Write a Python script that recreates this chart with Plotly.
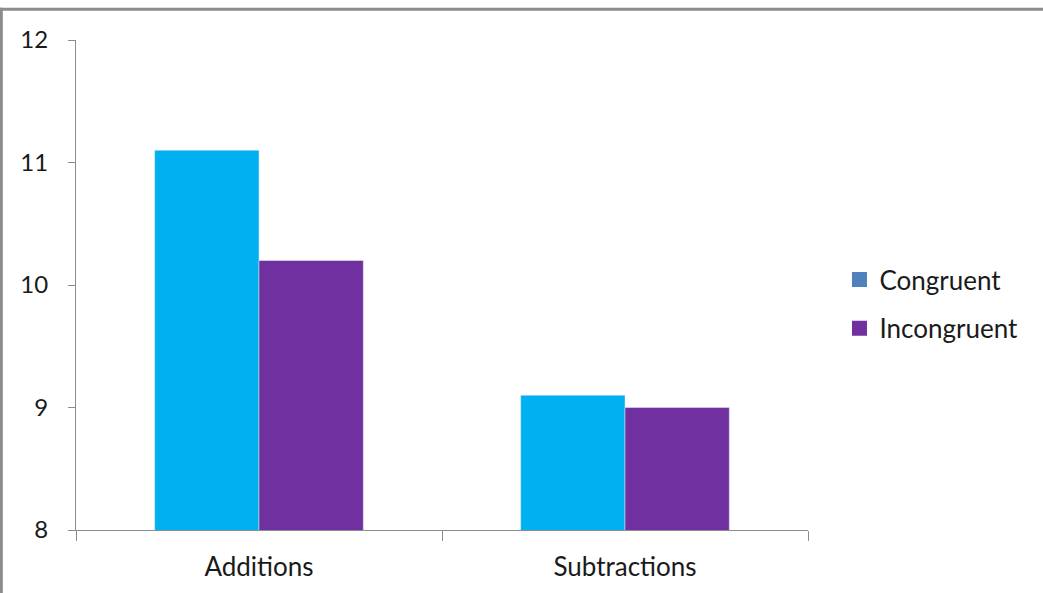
import plotly.graph_objects as go

categories = ["Additions", "Subtractions"]
congruent = [11.1, 9.1]
incongruent = [10.2, 9.0]
y_ticks = [8, 9, 10, 11, 12]

bar_congruent = "#00B0F0"
legend_congruent = "#4F81BD"
col_incongruent = "#7030A0"

fig = go.Figure()
fig.add_trace(go.Bar(x=categories, y=congruent, marker_color=bar_congruent,
                     name="Congruent", showlegend=False))
fig.add_trace(go.Bar(x=categories, y=incongruent, marker_color=col_incongruent,
                     name="Incongruent", showlegend=False))
# legend entries (Excel legend swatch colours)
fig.add_trace(go.Scatter(x=[None], y=[None], mode="markers", name="Congruent",
                         marker=dict(symbol="square", size=15, color=legend_congruent),
                         legendgroup="a"))
fig.add_trace(go.Scatter(x=[None], y=[None], mode="markers", name="Incongruent",
                         marker=dict(symbol="square", size=15, color=col_incongruent),
                         legendgroup="b"))

font = "Lato, Open Sans, sans-serif"
fig.update_layout(
    width=1043, height=593,
    margin=dict(l=76, r=235, t=40, b=63),
    paper_bgcolor="white", plot_bgcolor="white",
    barmode="group", bargap=0.43, bargroupgap=0,
    font=dict(family=font, size=24, color="#1a1a1a"),
    showlegend=True,
    legend=dict(x=1.043, y=0.461, xanchor="left", yanchor="middle",
                font=dict(size=26, family=font, color="#1a1a1a"),
                tracegroupgap=12, bgcolor="rgba(0,0,0,0)", itemwidth=30),
    xaxis=dict(type="category", showline=True, linecolor="#8c8c8c", linewidth=1,
               ticks="outside", tickson="boundaries", ticklen=10, tickcolor="#8c8c8c",
               showgrid=False, tickfont=dict(size=26), ticklabelstandoff=14),
    yaxis=dict(range=[8, 12], tickvals=y_ticks, showline=True, linecolor="#8c8c8c",
               linewidth=1, ticks="outside", ticklen=7, tickcolor="#8c8c8c",
               showgrid=False, zeroline=False, tickfont=dict(size=24),
               ticklabelstandoff=15),
    shapes=[
        dict(type="line", xref="paper", yref="paper", x0=-0.105, x1=1.33,
             y0=1.063, y1=1.063, line=dict(color="#8c8c8c", width=3)),
        dict(type="line", xref="paper", yref="paper", x0=-0.102, x1=-0.102,
             y0=-0.14, y1=1.066, line=dict(color="#8c8c8c", width=3)),
    ],
)

fig.write_html("out.html", config={"displayModeBar": False},
               post_script="document.body.style.margin='0';")
